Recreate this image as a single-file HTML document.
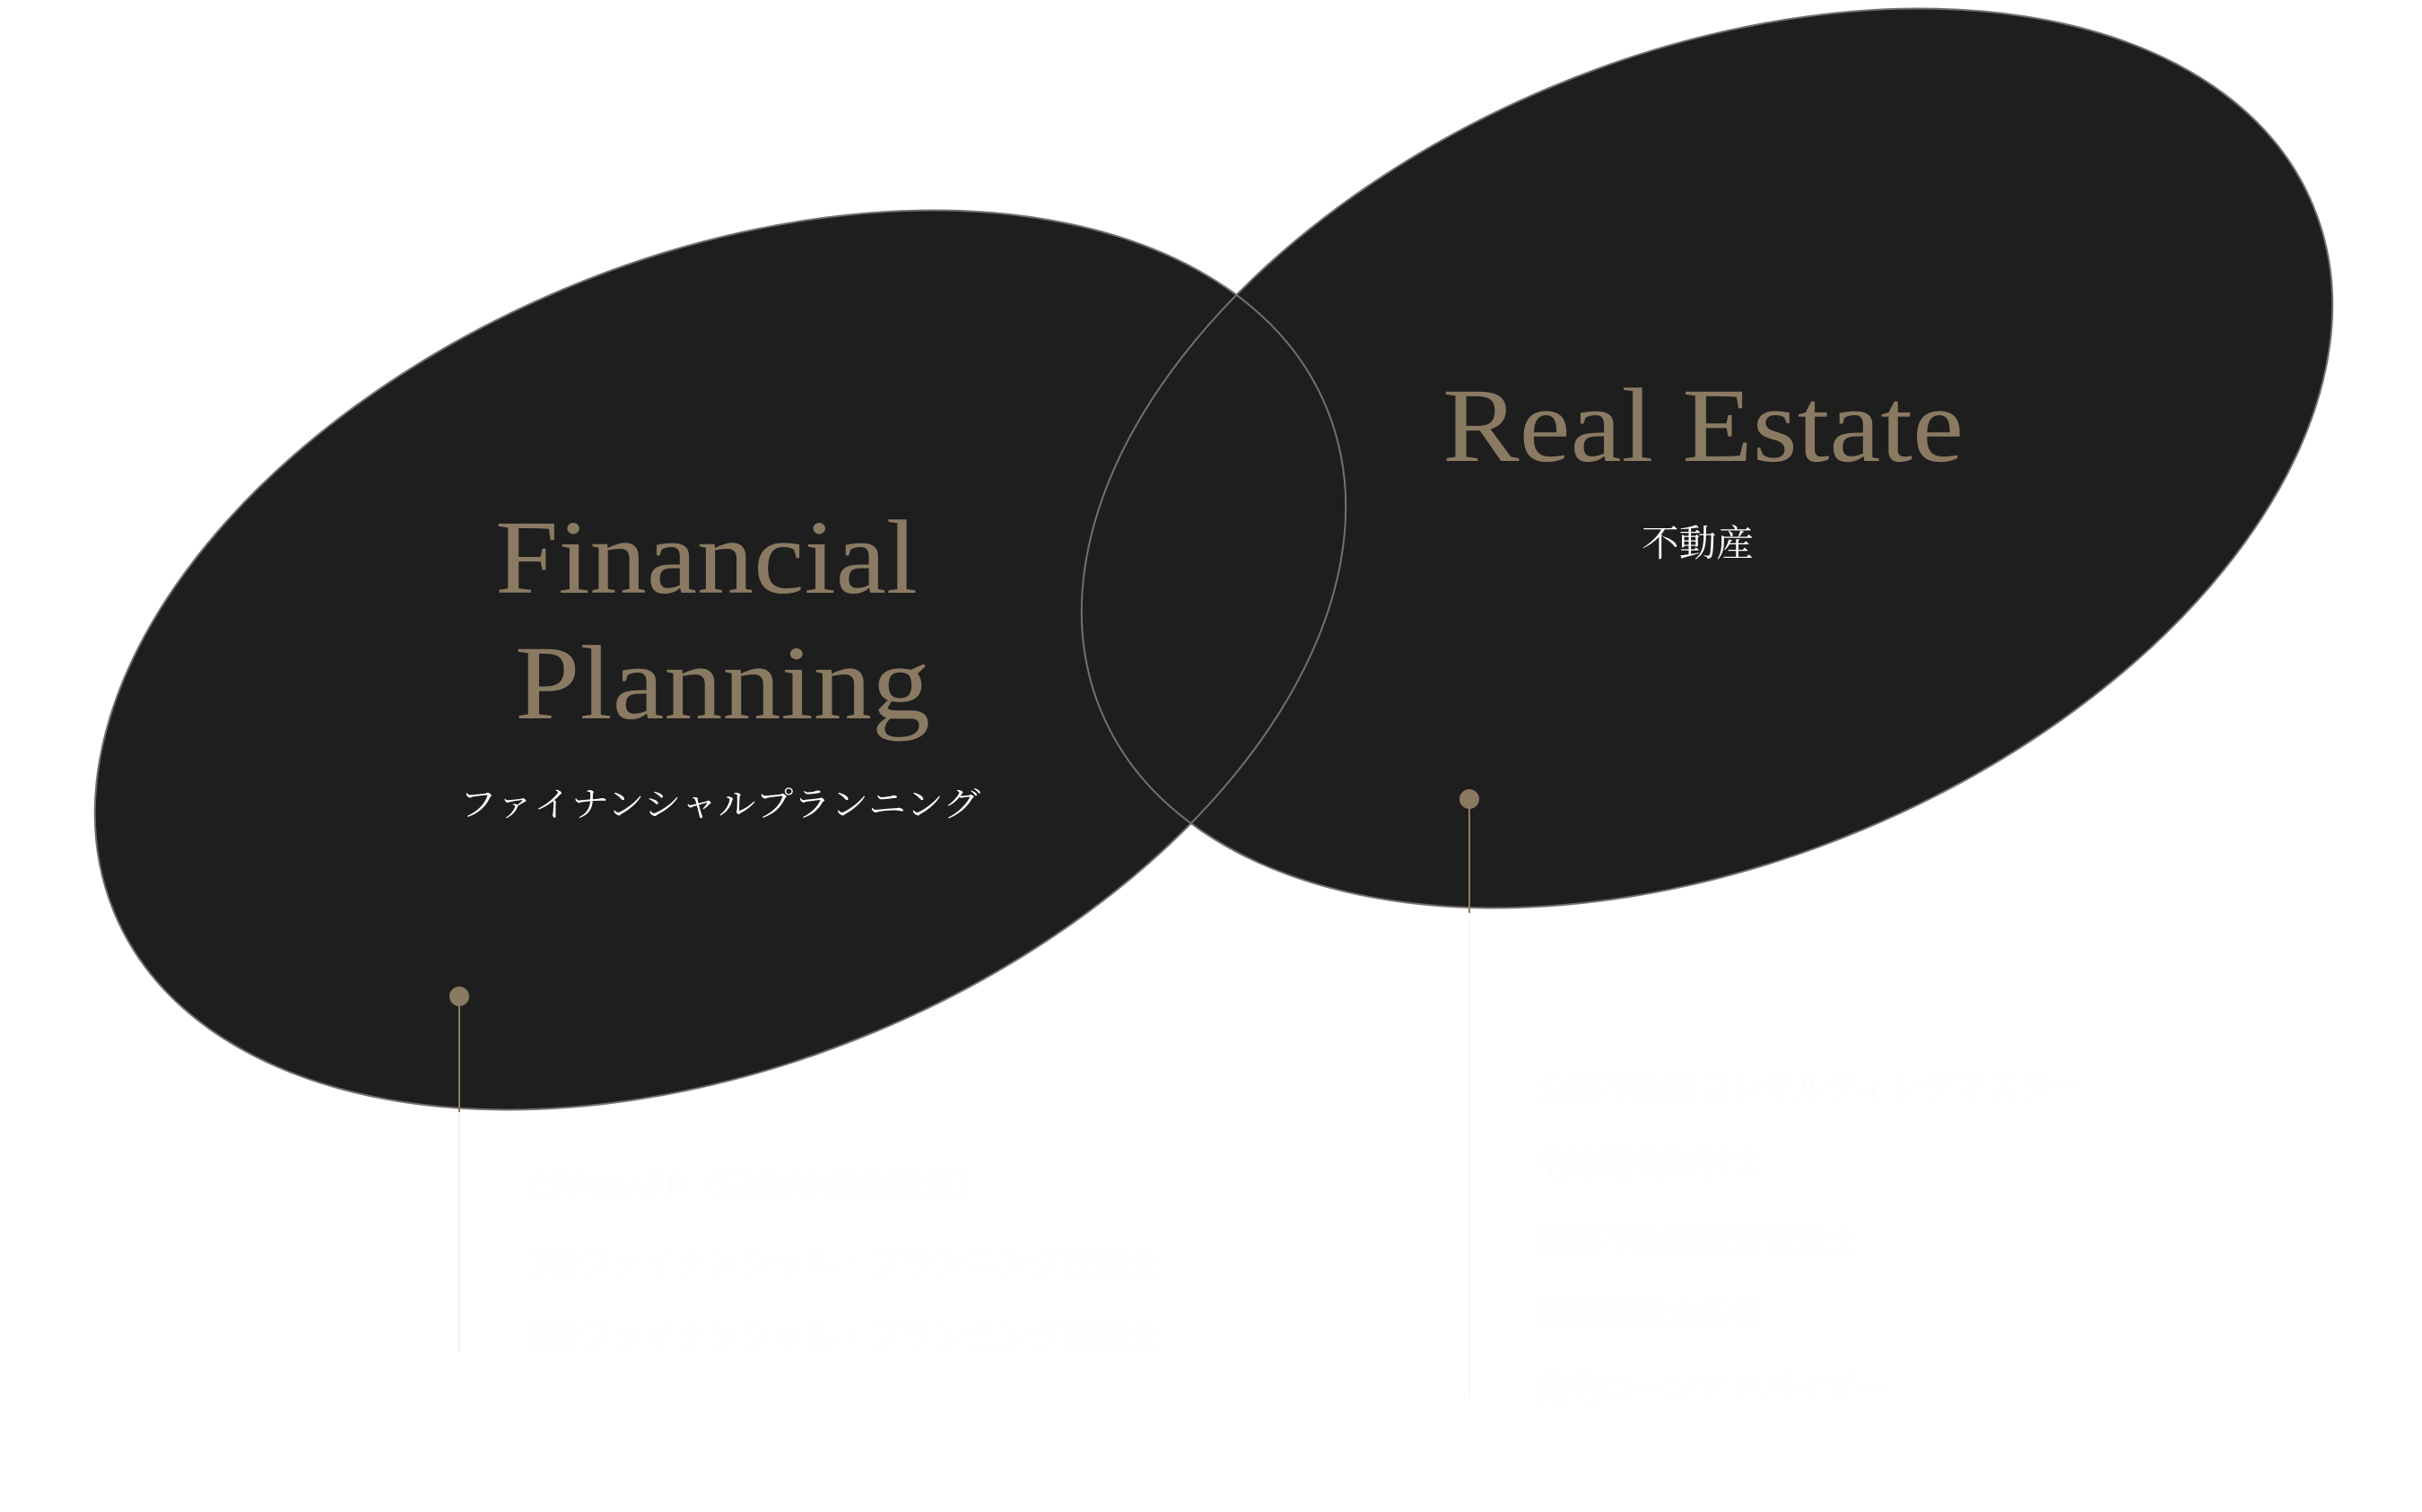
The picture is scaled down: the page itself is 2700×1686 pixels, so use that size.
<!DOCTYPE html>
<html><head><meta charset="utf-8"><style>
html,body{margin:0;padding:0;background:#fff;}
svg{display:block;}
</style></head><body>
<svg width="2700" height="1686" viewBox="0 0 2700 1686" xmlns="http://www.w3.org/2000/svg">
<rect width="2700" height="1686" fill="#fff"/>
<g transform="translate(803,736) rotate(-22.7)"><ellipse cx="0" cy="0" rx="732" ry="449" fill="#1f1e1e"/></g>
<g transform="translate(1903,511) rotate(-22.7)"><ellipse cx="0" cy="0" rx="732" ry="449" fill="#1f1e1e"/></g>
<g transform="translate(803,736) rotate(-22.7)"><ellipse cx="0" cy="0" rx="732" ry="449" fill="none" stroke="#74706b" stroke-width="2"/></g>
<g transform="translate(1903,511) rotate(-22.7)"><ellipse cx="0" cy="0" rx="732" ry="449" fill="none" stroke="#74706b" stroke-width="2"/></g>

<g font-family="'Liberation Serif', serif" fill="#8a7a62">
<text x="552" y="661" font-size="118" textLength="471" lengthAdjust="spacingAndGlyphs">Financial</text>
<text x="574" y="801" font-size="118" textLength="463" lengthAdjust="spacingAndGlyphs">Planning</text>
<text x="1608" y="514" font-size="118" textLength="581" lengthAdjust="spacingAndGlyphs">Real Estate</text>
</g>
<g font-family="'Liberation Serif','Noto Serif CJK SC', serif" fill="#ffffff">
<text x="512" y="910" font-size="38" textLength="581" lengthAdjust="spacingAndGlyphs">ファイナンシャルプランニング</text>
<text x="1830" y="620" font-size="41" textLength="125" lengthAdjust="spacingAndGlyphs">不動産</text>
</g>

<line x1="512" y1="1111" x2="512" y2="1240" stroke="#8a7a62" stroke-width="2"/>
<line x1="512" y1="1240" x2="512" y2="1506" stroke="#f3f1ee" stroke-width="2"/>
<circle cx="512" cy="1111" r="11" fill="#8a7a62"/>
<line x1="1638" y1="891" x2="1638" y2="1018" stroke="#8a7a62" stroke-width="2"/>
<line x1="1638" y1="1018" x2="1638" y2="1560" stroke="#fafafa" stroke-width="2"/>
<circle cx="1638" cy="891" r="11" fill="#8a7a62"/>

<g font-family="'Liberation Sans','Noto Sans CJK JP', sans-serif" fill="#fdfdfd" font-size="36">
<text x="588" y="1335">CFP®/AFP（日本FP協会認定）</text>
<text x="590" y="1420">1級ファイナンシャル・プランニング技能士</text>
<text x="590" y="1503">2級ファイナンシャル・プランニング技能士</text>
<text x="1712" y="1225">公認不動産コンサルティングマスター</text>
<text x="1712" y="1310">宅地建物取引士</text>
<text x="1712" y="1395">賃貸不動産経営管理士</text>
<text x="1712" y="1478">管理業務主任者</text>
<text x="1712" y="1560">住宅ローンアドバイザー</text>
</g>
</svg>
</body></html>
